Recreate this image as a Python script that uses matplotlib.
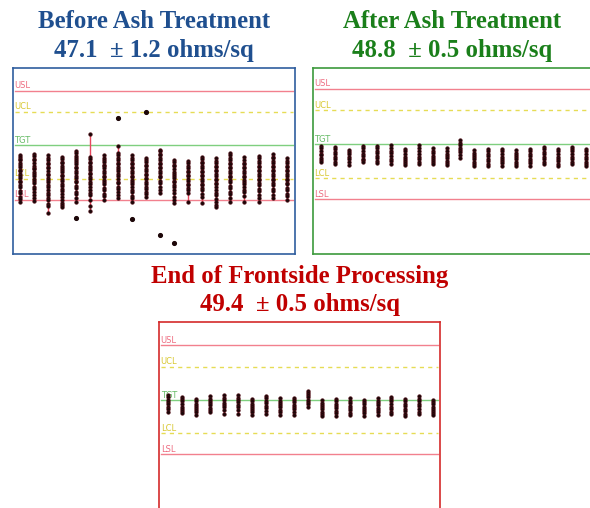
import matplotlib.pyplot as plt
import matplotlib.transforms as mtransforms

# Limit lines shared by the three charts (ohms/sq)
limit_names = ["USL", "UCL", "TGT", "LCL", "LSL"]
limit_values = [57.5, 54.6, 50.0, 45.4, 42.5]

# Before ash treatment: one list of site readings per wafer
before_cols = [
    [48.7, 48.4, 48.1, 47.9, 47.5, 47.3, 47.0, 46.6, 46.4, 46.1, 45.7, 45.5, 45.1, 44.9, 44.5, 44.2, 43.7, 43.4, 42.9, 42.6, 42.2],
    [48.8, 48.5, 48.1, 47.9, 47.6, 47.2, 46.9, 46.7, 46.3, 46.0, 45.8, 45.4, 45.1, 44.8, 44.3, 44.0, 43.6, 43.2, 42.8, 42.3],
    [48.6, 48.3, 47.9, 47.6, 47.4, 47.0, 46.8, 46.4, 46.1, 45.9, 45.5, 45.2, 44.9, 44.5, 44.3, 43.9, 43.4, 43.2, 42.7, 42.4, 41.9, 41.6, 40.7],
    [48.4, 48.1, 47.7, 47.5, 47.2, 46.8, 46.6, 46.3, 45.9, 45.7, 45.3, 45.1, 44.7, 44.4, 44.0, 43.7, 43.3, 42.9, 42.4, 42.1, 41.8, 41.5],
    [49.2, 48.9, 48.5, 48.3, 47.9, 47.7, 47.4, 47.0, 46.8, 46.4, 46.2, 45.8, 45.5, 45.1, 44.9, 44.4, 44.1, 43.6, 43.3, 42.7, 42.2],
    [51.5, 48.4, 48.1, 47.7, 47.5, 47.1, 46.9, 46.6, 46.2, 46.0, 45.6, 45.4, 45.0, 44.7, 44.3, 43.9, 43.4, 43.1, 42.5, 41.7, 40.9],
    [48.6, 48.3, 47.9, 47.7, 47.3, 47.1, 46.8, 46.4, 46.2, 45.8, 45.6, 45.2, 45.0, 44.6, 44.1, 43.8, 43.3, 43.0, 42.5],
    [49.9, 48.9, 48.6, 48.2, 48.0, 47.6, 47.4, 47.0, 46.7, 46.4, 46.0, 45.8, 45.4, 45.0, 44.8, 44.3, 44.0, 43.5, 43.2, 42.7],
    [48.6, 48.2, 48.0, 47.6, 47.4, 47.0, 46.8, 46.4, 46.2, 45.8, 45.6, 45.2, 45.0, 44.6, 44.3, 43.8, 43.5, 43.0, 42.7, 42.2],
    [48.3, 47.9, 47.7, 47.3, 47.1, 46.7, 46.5, 46.1, 45.9, 45.5, 45.3, 44.9, 44.7, 44.3, 44.0, 43.6, 43.3, 42.9],
    [49.4, 49.2, 48.8, 48.6, 48.2, 48.0, 47.6, 47.4, 47.0, 46.8, 46.4, 46.2, 45.8, 45.6, 45.1, 44.8, 44.3, 43.9, 43.4],
    [48.0, 47.7, 47.3, 47.1, 46.7, 46.3, 46.1, 45.7, 45.5, 45.1, 44.9, 44.5, 44.2, 43.8, 43.4, 42.9, 42.5, 42.0],
    [47.8, 47.5, 47.1, 46.9, 46.5, 46.3, 45.9, 45.7, 45.3, 45.1, 44.7, 44.5, 44.1, 43.8, 43.4, 42.2],
    [48.4, 48.1, 47.7, 47.5, 47.1, 46.9, 46.5, 46.3, 45.9, 45.7, 45.3, 45.1, 44.7, 44.5, 44.1, 43.8, 43.3, 42.9, 42.0],
    [48.2, 47.8, 47.6, 47.2, 47.0, 46.6, 46.4, 46.0, 45.8, 45.4, 45.2, 44.8, 44.6, 44.2, 43.9, 43.4, 43.1, 42.6, 42.2, 41.8, 41.5],
    [48.9, 48.6, 48.2, 48.0, 47.6, 47.4, 47.0, 46.8, 46.4, 46.2, 45.8, 45.6, 45.2, 44.9, 44.4, 44.1, 43.6, 43.3, 42.7, 42.2],
    [48.4, 48.0, 47.6, 47.4, 47.0, 46.8, 46.4, 46.2, 45.8, 45.6, 45.2, 45.0, 44.6, 44.3, 43.8, 43.5, 43.0, 42.2],
    [48.5, 48.2, 47.8, 47.6, 47.2, 47.0, 46.6, 46.4, 46.0, 45.8, 45.4, 45.2, 44.8, 44.5, 44.0, 43.7, 43.2, 42.8, 42.2],
    [48.8, 48.4, 48.2, 47.8, 47.6, 47.2, 47.0, 46.6, 46.4, 46.0, 45.8, 45.4, 45.2, 44.8, 44.5, 44.0, 43.7, 43.2, 42.7],
    [48.2, 47.8, 47.6, 47.2, 47.0, 46.6, 46.4, 46.0, 45.8, 45.4, 45.2, 44.8, 44.6, 44.1, 43.8, 43.3, 43.0, 42.5],
]
# Stray readings (wafer number, value) drawn without a range bar
before_outliers = [(5, 40.0), (8, 53.7), (9, 39.9), (10, 54.5), (11, 37.7), (12, 36.5)]

# After ash treatment
after_cols = [
    [49.7, 49.4, 49.0, 48.7, 48.5, 48.1, 47.8, 47.5],
    [49.6, 49.3, 48.9, 48.6, 48.2, 47.9, 47.6, 47.3],
    [49.2, 48.9, 48.6, 48.2, 47.9, 47.6, 47.2],
    [49.7, 49.4, 49.1, 48.7, 48.4, 48.0, 47.8, 47.5],
    [49.7, 49.4, 49.0, 48.8, 48.4, 48.1, 47.7, 47.4],
    [49.8, 49.4, 49.1, 48.8, 48.4, 48.0, 47.7, 47.3],
    [49.3, 49.0, 48.6, 48.3, 48.0, 47.7, 47.4, 47.1],
    [49.8, 49.4, 49.0, 48.7, 48.3, 48.0, 47.6, 47.3],
    [49.4, 49.1, 48.8, 48.4, 48.1, 47.8, 47.5, 47.25],
    [49.4, 49.1, 48.7, 48.4, 48.1, 47.7, 47.4, 47.15],
    [50.5, 50.2, 49.8, 49.5, 49.2, 48.9, 48.5, 48.15],
    [49.15, 48.8, 48.5, 48.2, 47.9, 47.6, 47.3, 46.97],
    [49.3, 49.0, 48.7, 48.4, 48.0, 47.7, 47.3, 47.0],
    [49.3, 49.0, 48.7, 48.3, 48.0, 47.7, 47.4, 47.06],
    [49.15, 48.8, 48.5, 48.2, 47.9, 47.6, 47.3, 47.0],
    [49.35, 49.0, 48.7, 48.4, 48.0, 47.7, 47.4, 47.06],
    [49.6, 49.3, 48.9, 48.6, 48.3, 47.9, 47.6, 47.3],
    [49.35, 49.0, 48.7, 48.3, 48.0, 47.7, 47.3, 47.0],
    [49.65, 49.3, 49.0, 48.6, 48.3, 47.9, 47.6, 47.25],
    [49.3, 49.0, 48.6, 48.3, 48.0, 47.6, 47.3, 47.0],
]

# End of frontside processing
end_cols = [
    [50.7, 50.4, 50.0, 49.7, 49.4, 49.1, 48.7, 48.4],
    [50.45, 50.1, 49.8, 49.5, 49.1, 48.8, 48.5, 48.2],
    [50.15, 49.8, 49.5, 49.2, 48.9, 48.6, 48.3, 47.95],
    [50.55, 50.2, 49.9, 49.6, 49.3, 48.9, 48.6, 48.3],
    [50.65, 50.3, 50.0, 49.6, 49.3, 49.0, 48.6, 48.1],
    [50.7, 50.3, 50.0, 49.7, 49.3, 49.0, 48.6, 48.1],
    [50.15, 49.8, 49.5, 49.2, 48.9, 48.6, 48.3, 47.95],
    [50.6, 50.3, 49.9, 49.6, 49.2, 48.9, 48.5, 48.1],
    [50.25, 49.9, 49.6, 49.3, 49.0, 48.6, 48.3, 48.0],
    [50.3, 50.0, 49.7, 49.3, 49.0, 48.7, 48.4, 48.0],
    [51.3, 51.0, 50.7, 50.4, 50.0, 49.7, 49.4, 49.05],
    [49.95, 49.6, 49.3, 49.0, 48.7, 48.4, 48.1, 47.85],
    [50.2, 49.9, 49.5, 49.2, 48.9, 48.5, 48.2, 47.85],
    [50.25, 49.9, 49.6, 49.2, 48.9, 48.6, 48.2, 47.9],
    [50.0, 49.7, 49.4, 49.1, 48.8, 48.5, 48.2, 47.85],
    [50.25, 49.9, 49.6, 49.3, 48.9, 48.6, 48.3, 47.95],
    [50.45, 50.1, 49.8, 49.4, 49.1, 48.8, 48.4, 48.05],
    [50.2, 49.8, 49.5, 49.2, 48.8, 48.5, 48.1, 47.8],
    [50.5, 50.2, 49.8, 49.5, 49.2, 48.8, 48.4, 48.05],
    [50.05, 49.7, 49.4, 49.1, 48.8, 48.5, 48.2, 47.9],
]

titles = ["Before Ash Treatment", "After Ash Treatment", "End of Frontside Processing"]
subtitles = ["47.1  \u00b1 1.2 ohms/sq", "48.8  \u00b1 0.5 ohms/sq", "49.4  \u00b1 0.5 ohms/sq"]

# Styling
LIMIT_STYLE = {
    "USL": dict(color="#f2808e", ls="-", text="#ee6c80"),
    "UCL": dict(color="#e6dc55", ls=(0, (3, 3)), text="#d8c832"),
    "TGT": dict(color="#7fcf7f", ls="-", text="#66bb66"),
    "LCL": dict(color="#e6dc55", ls=(0, (3, 3)), text="#d8c832"),
    "LSL": dict(color="#f2808e", ls="-", text="#ee6c80"),
}
RANGE_COLOR = "#e8485e"
DOT_COLOR = "#1c0608"
W, H = 590, 508


def px_axes(fig, left, top, right, bottom):
    """Add axes placed by pixel edges of the 590x508 canvas."""
    return fig.add_axes([left / W, 1 - bottom / H, (right - left) / W, (bottom - top) / H])


def draw_panel(ax, columns, outliers, xlim, ylim, frame_color):
    """Draw one wafer-by-wafer control chart."""
    trans = mtransforms.blended_transform_factory(ax.transAxes, ax.transData)
    for name, value in zip(limit_names, limit_values):
        style = LIMIT_STYLE[name]
        ax.axhline(value, xmin=0.008, xmax=0.992, color=style["color"],
                   ls=style["ls"], lw=1.0, zorder=1)
        ax.text(0.006, value + 0.05, name, transform=trans, color=style["text"],
                fontsize=6, ha="left", va="bottom", zorder=1)

    # Range bar and readings for every wafer
    for i, col in enumerate(columns, start=1):
        ax.plot([i, i], [min(col), max(col)], color=RANGE_COLOR, lw=1.0, zorder=2)
        ax.plot([i] * len(col), col, "o", ms=2.7, color=DOT_COLOR, mec="#5a0a14",
                mew=0.3, zorder=3)
    for i, value in outliers:
        ax.plot(i, value, "o", ms=2.7, color=DOT_COLOR, zorder=3)

    ax.set_xlim(*xlim)
    ax.set_ylim(*ylim)
    ax.set_xticks([])
    ax.set_yticks([])
    for spine in ax.spines.values():
        spine.set_color(frame_color)
        spine.set_linewidth(1.2)


fig = plt.figure(figsize=(W / 100, H / 100), dpi=100)

ax1 = px_axes(fig, 12.7, 68, 295, 254)
draw_panel(ax1, before_cols, before_outliers, (0.48, 20.6), (35.05, 60.6), "#2f5d9e")

ax2 = px_axes(fig, 312.7, 67.7, 595, 254.3)
draw_panel(ax2, after_cols, [], (0.43, 20.62), (35.03, 60.35), "#3c9a3c")

ax3 = px_axes(fig, 159, 321.7, 440, 509)
draw_panel(ax3, end_cols, [], (0.33, 20.48), (35.0, 60.77), "#d42a2a")

# Headings above each chart
title_font = dict(family="Liberation Serif", fontweight="bold", fontsize=17.8, ha="center")
heading_spots = [(153.8, 28, 57, "#1f4f8f"), (452, 28, 57, "#1a7f1a"), (300, 283, 311, "#c00000")]
for (cx, y1, y2, color), title, sub in zip(heading_spots, titles, subtitles):
    fig.text(cx / W, 1 - y1 / H, title, color=color, va="baseline", **title_font)
    fig.text(cx / W, 1 - y2 / H, sub, color=color, va="baseline", **title_font)

fig.savefig("out.png", dpi=100)
